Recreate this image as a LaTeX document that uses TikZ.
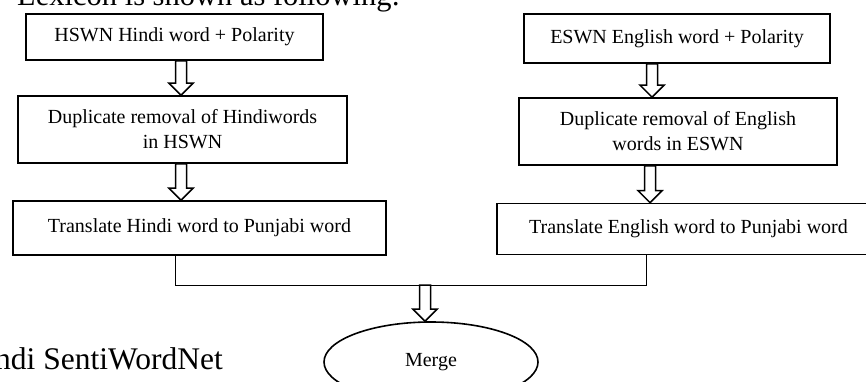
\documentclass[tikz,border=0pt]{standalone}
\usepackage{fontspec}
\setmainfont{Liberation Serif}
\usetikzlibrary{calc,shapes.geometric}
\newcommand\hollowarrow[3]{%
  \draw[harrow] let \p1=#1, \p2=#2 in
    (#3pt-5.5pt,\y1) -- (#3pt-5.5pt,\y2+12pt) -- (#3pt-12pt,\y2+12pt) -- (#3pt,\y2)
    -- (#3pt+12pt,\y2+12pt) -- (#3pt+5.5pt,\y2+12pt) -- (#3pt+5.5pt,\y1) -- cycle;}
\begin{document}
\begin{tikzpicture}[x=1pt,y=-1pt,
  box/.style={draw, line width=1.6pt, inner sep=0pt, align=center,
    font=\fontsize{20}{25}\selectfont},
  harrow/.style={draw, line width=1.5pt, line join=miter, fill=white},
  conn/.style={draw, line width=0.9pt},
  merge/.style={ellipse, draw, line width=1.6pt, inner sep=0pt,
    font=\fontsize{20}{24}\selectfont},
  bigtext/.style={inner sep=0pt, font=\fontsize{30.5}{34}\selectfont}]
\useasboundingbox (0,0) rectangle (866,382);
\clip (0,0) rectangle (866,382);

\node[bigtext, anchor=base west] (toptext) at (17,6) {Lexicon is shown as following:};
\node[bigtext, anchor=base east, font=\fontsize{31.5}{34}\selectfont] (bottext) at (223,369) {Hindi SentiWordNet};

\node[box, minimum width=297pt, minimum height=46pt] (h1) at (174.5,37) {HSWN Hindi word + Polarity};
\node[box, minimum width=329pt, minimum height=67pt] (h2) at (182.5,129.5) {Duplicate removal of Hindiwords\\in HSWN};
\node[box, minimum width=373pt, minimum height=54pt] (h3) at (199.5,228) {Translate Hindi word to Punjabi word};

\node[box, minimum width=306pt, minimum height=49pt] (e1) at (677,38.5) {ESWN English word + Polarity};
\node[box, minimum width=318pt, minimum height=67pt] (e2) at (678,131.5) {Duplicate removal of English\\words in ESWN};
\node[box, minimum width=383pt, minimum height=51pt] (e3) at (688.5,229) {Translate English word to Punjabi word};

\node[merge, minimum width=214pt, minimum height=80pt] (m) at (431,362) {Merge};

\hollowarrow{(h1.south)}{(h2.north)}{181}
\hollowarrow{(h2.south)}{(h3.north)}{181}
\hollowarrow{(e1.south)}{(e2.north)}{652}
\hollowarrow{(e2.south)}{(e3.north)}{650}

\coordinate (jl) at (175,285);
\coordinate (jr) at (646,285);
\coordinate (j) at (425,285);
\draw[conn] (jl |- h3.south) -- (jl) -- (jr) -- (jr |- e3.south);
\hollowarrow{(j)}{(m.north)}{425}
\end{tikzpicture}
\end{document}
